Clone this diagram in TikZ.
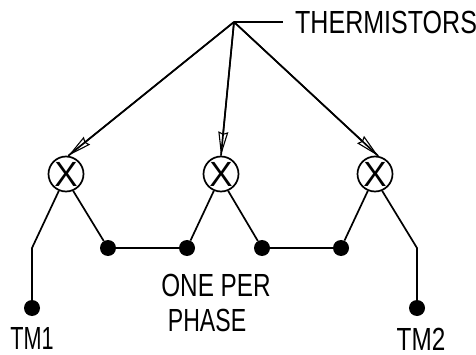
\documentclass[tikz,border=0pt]{standalone}
\usepackage{fontspec}
\setmainfont{Liberation Sans}
\usetikzlibrary{arrows.meta}
\tikzset{
	sensor/.style={circle,draw,line width=1.7pt,minimum size=35pt,inner sep=0pt,font=\fontsize{35}{35}\selectfont},
	terminal/.style={circle,fill=black,minimum size=16pt,inner sep=0pt},
	lbl/.style={font=\fontsize{32}{36}\selectfont,inner sep=0pt,transform shape,xscale=0.76},
	wire/.style={line width=1.7pt},
	pointer/.style={line width=1.5pt,-{Stealth[open,length=24pt,width=10pt,inset=2pt,line width=1.1pt]}}
}
\begin{document}
\begin{tikzpicture}[x=1pt,y=-1pt]
	\useasboundingbox (0,0) rectangle (476,355);
	\path (234,22) coordinate (hub);
	\path (283,22) coordinate (leader);
	\path (32,248) coordinate (bend1);
	\path (417,248) coordinate (bend2);

	\path (66,174) node(sensor1) [sensor] {X};
	\path (221,174) node(sensor2) [sensor] {X};
	\path (375,174) node(sensor3) [sensor] {X};
	\path (108,248) node(dot1) [terminal] {};
	\path (187,248) node(dot2) [terminal] {};
	\path (262,248) node(dot3) [terminal] {};
	\path (341,248) node(dot4) [terminal] {};
	\path (32,308) node(tm1dot) [terminal] {};
	\path (417,308) node(tm2dot) [terminal] {};

	\path (295,22) node(thermistors) [lbl,anchor=west,xscale=1.03] {THERMISTORS};
	\path (216,285) node(oneper) [lbl] {ONE PER};
	\path (207,320) node(phase) [lbl,xscale=0.95] {PHASE};
	\path (32,338) node(tm1) [lbl,xscale=0.89] {TM1};
	\path (421,339) node(tm2) [lbl] {TM2};

	\draw[wire] (hub) -- (leader);
	\draw[pointer] (hub) -- (sensor1.83);
	\draw[wire] (hub) -- (sensor1.83);
	\draw[pointer] (hub) -- (sensor2.90);
	\draw[wire] (hub) -- (sensor2.90);
	\draw[pointer] (hub) -- (sensor3.80);
	\draw[wire] (hub) -- (sensor3.80);
	\draw[wire] (tm1dot) -- (bend1) -- (sensor1.247);
	\draw[wire] (sensor1.293) -- (dot1) -- (dot2) -- (sensor2.247);
	\draw[wire] (sensor2.293) -- (dot3) -- (dot4) -- (sensor3.247);
	\draw[wire] (sensor3.293) -- (bend2) -- (tm2dot);
\end{tikzpicture}
\end{document}
